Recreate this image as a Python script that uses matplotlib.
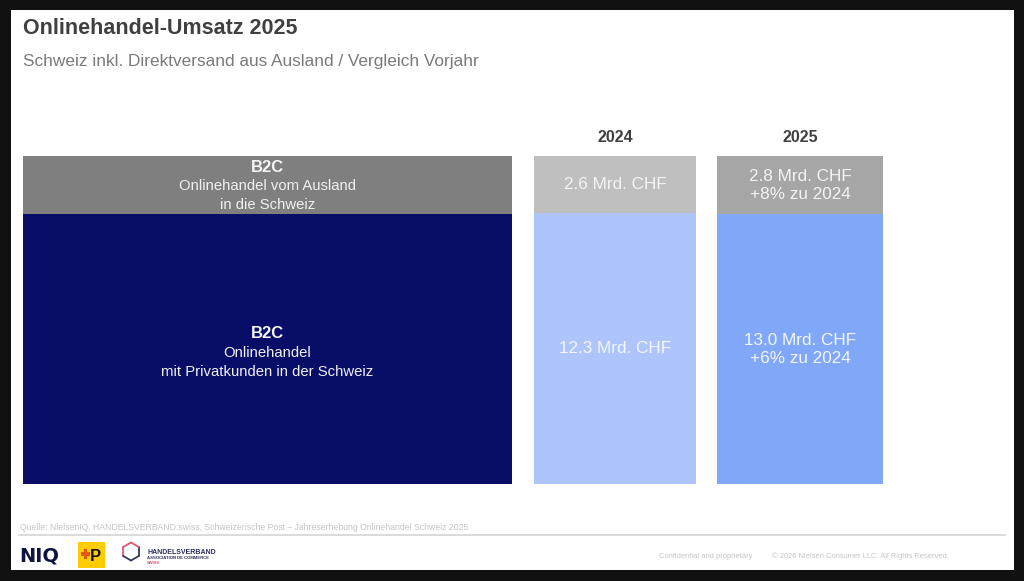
import matplotlib
matplotlib.use("Agg")
import matplotlib.pyplot as plt
from matplotlib.patches import Rectangle
import numpy as np

plt.rcParams['font.family'] = ['Liberation Sans', 'DejaVu Sans']

# ---------------- data ----------------
title = "Onlinehandel-Umsatz 2025"
subtitle = "Schweiz inkl. Direktversand aus Ausland / Vergleich Vorjahr"
years = ["2024", "2025"]
ausland_mrd = [2.6, 2.8]       # B2C Onlinehandel vom Ausland in die Schweiz
inland_mrd = [12.3, 13.0]      # B2C Onlinehandel mit Privatkunden in der Schweiz
ausland_change = [None, 8]     # % zu Vorjahr
inland_change = [None, 6]
unit = "Mrd. CHF"
segment_title = "B2C"
ausland_desc = ["Onlinehandel vom Ausland", "in die Schweiz"]
inland_desc = ["Onlinehandel", "mit Privatkunden in der Schweiz"]
source = ("Quelle: NielsenIQ, HANDELSVERBAND.swiss, Schweizerische Post – "
          "Jahreserhebung Onlinehandel Schweiz 2025")
footer_left = "Confidential and proprietary"
footer_right = "© 2026 Nielsen Consumer LLC. All Rights Reserved."

# ---------------- layout / style ----------------
W, H = 1024, 581
col_left = [23, 534, 717]          # px, label column + two year columns
col_width = [489, 162, 166]
bar_top_px, bar_bot_px = 156, 484
c_ausland = ["#7f7f7f", "#bfbfbf", "#a6a6a6"]
c_inland = ["#080e68", "#adc5fb", "#80a7f8"]
txt_dark = "#404040"

fig = plt.figure(figsize=(W / 100, H / 100), dpi=100, facecolor="#111111")

ov = fig.add_axes([0, 0, 1, 1], zorder=0)
ov.set_xlim(0, W)
ov.set_ylim(H, 0)
ov.axis("off")
ov.add_patch(Rectangle((11, 10), 1003, 560, facecolor="white", edgecolor="none"))

# title block
ov.text(23, 34, title, fontsize=15.5, fontweight="bold", color=txt_dark, va="baseline", ha="left")
ov.text(23, 66, subtitle, fontsize=12.4, color="#7a7a7a", va="baseline", ha="left")

# bars
ax = fig.add_axes([col_left[0] / W, 1 - bar_bot_px / H,
                   (col_left[2] + col_width[2] - col_left[0]) / W,
                   (bar_bot_px - bar_top_px) / H], zorder=1)
ax.patch.set_visible(False)
ax.set_xlim(col_left[0], col_left[2] + col_width[2])
ax.set_ylim(0, 1)
ax.axis("off")

a = np.array(ausland_mrd)
i = np.array(inland_mrd)
share_a = a / (a + i)
share_i = i / (a + i)
label_share_i = share_i.mean()
label_share_a = share_a.mean()

sh_i = [label_share_i] + list(share_i)
sh_a = [label_share_a] + list(share_a)

ax.bar(col_left, sh_i, width=col_width, align="edge", bottom=0,
       color=c_inland, edgecolor="none")
ax.bar(col_left, sh_a, width=col_width, align="edge", bottom=sh_i,
       color=c_ausland, edgecolor="none")

# label column texts
xc0 = col_left[0] + col_width[0] / 2
yg = sh_i[0] + sh_a[0] / 2
yb = sh_i[0] / 2
for yc, desc, offs in [(yg, ausland_desc, (12.2, -1.0, -14.2)),
                       (yb, inland_desc, (10.7, -3.0, -16.7))]:
    ax.annotate(segment_title, (xc0, yc), xytext=(0, offs[0]), textcoords="offset points",
                ha="center", va="center", fontsize=12, fontweight="bold", color="#f4f4f4")
    ax.annotate(desc[0], (xc0, yc), xytext=(0, offs[1]), textcoords="offset points",
                ha="center", va="center", fontsize=10.7, color="#f0f0f0")
    ax.annotate(desc[1], (xc0, yc), xytext=(0, offs[2]), textcoords="offset points",
                ha="center", va="center", fontsize=10.7, color="#f0f0f0")

# value texts
for k, yr in enumerate(years):
    j = k + 1
    xc = col_left[j] + col_width[j] / 2
    la = f"{ausland_mrd[k]:.1f} {unit}"
    if ausland_change[k] is not None:
        la += f"\n+{ausland_change[k]}% zu {years[0]}"
    li = f"{inland_mrd[k]:.1f} {unit}"
    if inland_change[k] is not None:
        li += f"\n+{inland_change[k]}% zu {years[0]}"
    ax.text(xc, sh_i[j] + sh_a[j] / 2, la, ha="center", va="center",
            fontsize=12.3, color="#f4f4f4", linespacing=1.25)
    ax.text(xc, sh_i[j] / 2, li, ha="center", va="center",
            fontsize=12.3, color="#f4f7ff", linespacing=1.25)
    ov.text(xc, 142, yr, ha="center", va="baseline", fontsize=11.5,
            fontweight="bold", color=txt_dark)

# footer
ov.text(20, 529.5, source, fontsize=6.2, color="#c4c4c4", ha="left", va="baseline")
ov.plot([19, 1005], [535, 535], color="#d4d4d4", lw=1.2)
ov.text(706, 557.5, footer_left, fontsize=5.4, color="#c4c4c4", ha="center", va="baseline")
ov.text(860, 557.5, footer_right, fontsize=5.4, color="#c4c4c4", ha="center", va="baseline")

# logos
ov.text(19, 561, "NIQ", fontsize=14, fontweight="bold", color="#0f1440",
        ha="left", va="baseline", family="DejaVu Sans")
ov.add_patch(Rectangle((78, 542), 27, 26, facecolor="#ffcc00", edgecolor="none"))
ov.add_patch(Rectangle((81, 552), 9, 3.5, facecolor="#e35a0f", edgecolor="none"))
ov.add_patch(Rectangle((83.8, 549), 3.5, 9.5, facecolor="#e35a0f", edgecolor="none"))
ov.text(90, 561, "P", fontsize=12, fontweight="bold", color="#111111", ha="left", va="baseline")
hx, hy, hr = 131, 551.5, 9
ang = np.deg2rad(90 + 60 * np.arange(7))
vx = hx + hr * np.cos(ang)
vy = hy - hr * np.sin(ang)
for s in range(6):
    col = "#e0566e" if s in (0, 1, 5) else "#34385e"
    ov.plot(vx[s:s + 2], vy[s:s + 2], color=col, lw=1.3, solid_capstyle="round")
ov.text(147, 553.5, "HANDELSVERBAND", fontsize=5.0, fontweight="bold", color="#2b3060",
        ha="left", va="baseline")
ov.text(147, 559, "ASSOCIATION DE COMMERCE", fontsize=3.1, fontweight="bold", color="#2b3060",
        ha="left", va="baseline")
ov.text(147, 564.5, "SWISS", fontsize=3.0, fontweight="bold", color="#e0566e",
        ha="left", va="baseline")

fig.savefig("out.png", dpi=100, facecolor=fig.get_facecolor())
